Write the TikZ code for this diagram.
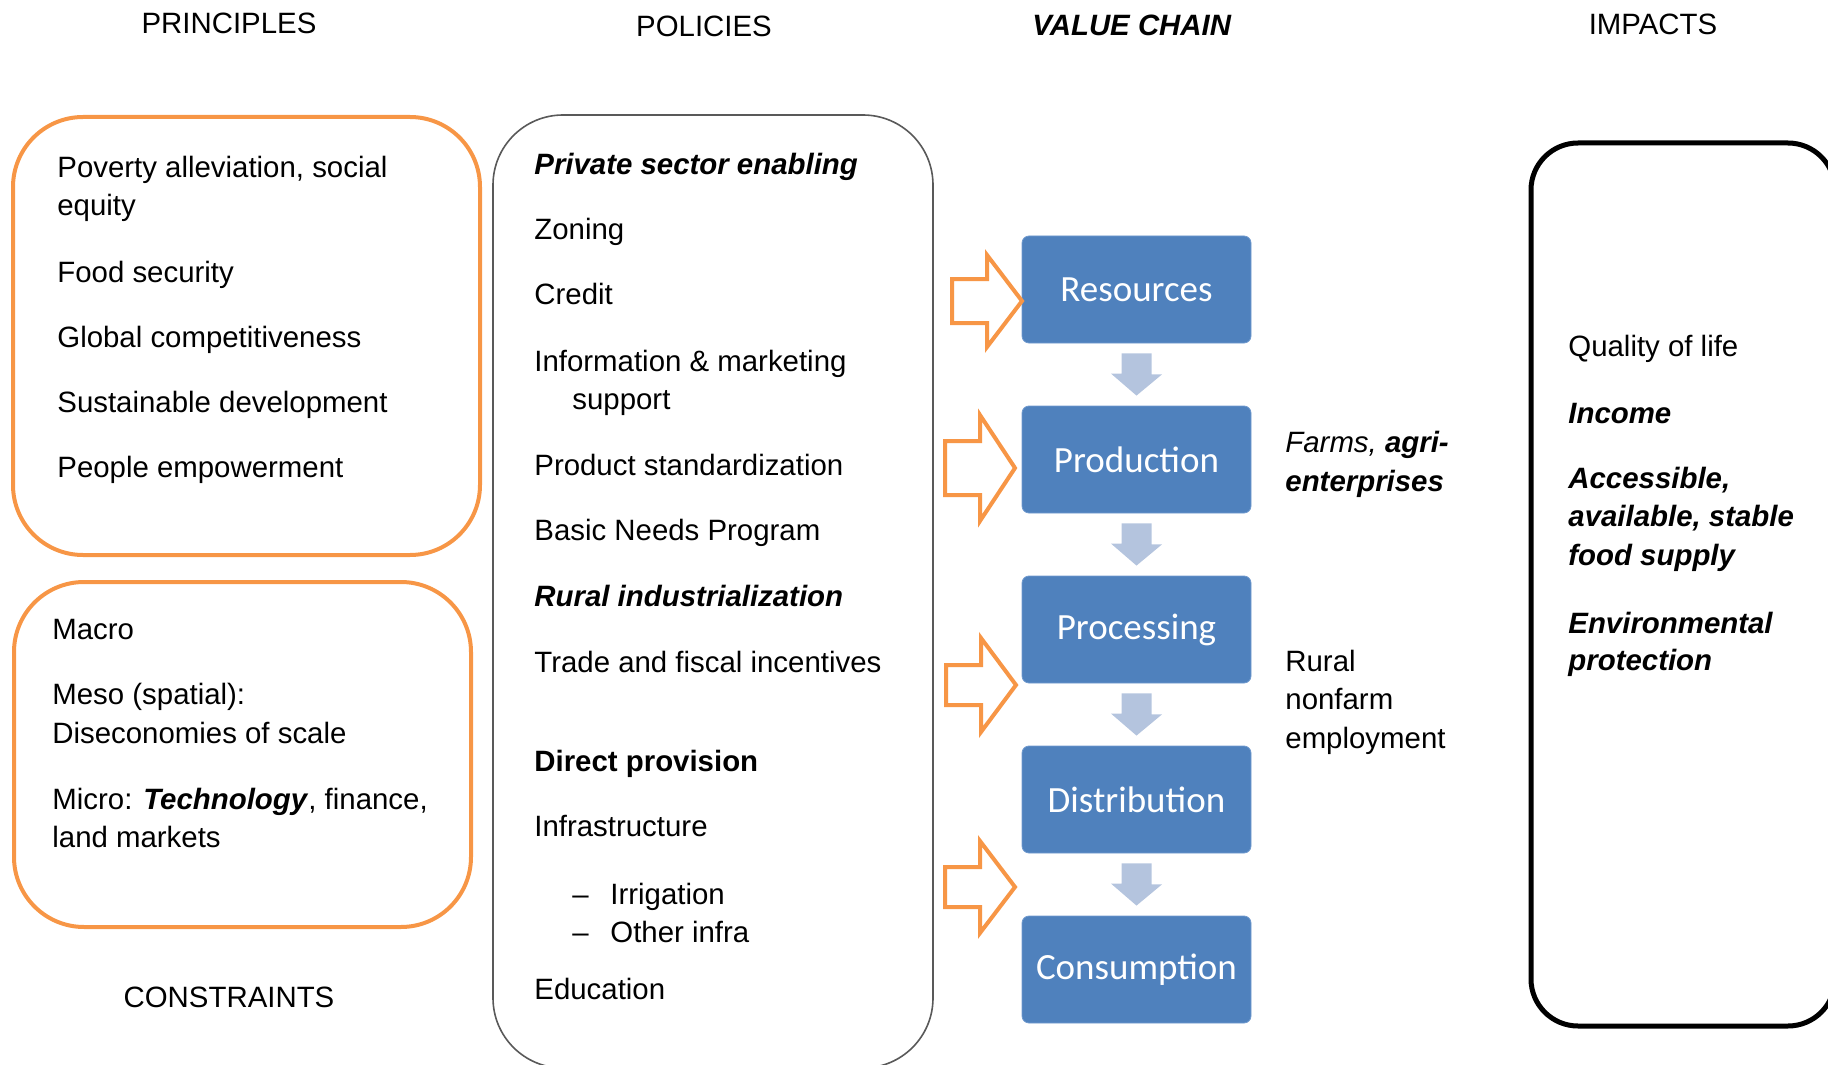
\documentclass[tikz,border=0pt]{standalone}
\usepackage{fontspec}
\setmainfont{Liberation Sans}
\newfontfamily\calibrifont{Carlito}
\usetikzlibrary{calc}

\definecolor{vcorange}{RGB}{247,150,70}
\definecolor{vcblue}{RGB}{79,129,189}
\definecolor{vcblueline}{RGB}{112,154,206}
\definecolor{vcpale}{RGB}{180,196,222}

\tikzset{
  chainbox/.style={draw=vcblueline, line width=0.4pt, fill=vcblue, rounded corners=3.5pt,
    minimum width=114.5pt, minimum height=53.5pt, text=white,
    font=\calibrifont\fontsize{18.5}{22}\selectfont},
  txt/.style={anchor=base west, inner sep=0pt},
  headtxt/.style={anchor=base, inner sep=0pt},
  orangebox/.style={draw=vcorange, line width=2pt, rounded corners=35pt},
  feed/.style={draw=vcorange, line width=2pt, fill=white, line join=miter},
  flow/.style={fill=vcpale, draw=none},
}

% tip x, tip y, head half height, shaft half height
\newcommand{\feedarrow}[4]{%
  \draw[feed] (#1,#2) -- (#1-35,#2-#3) -- (#1-35,#2-#4) -- (#1-70,#2-#4)
    -- (#1-70,#2+#4) -- (#1-35,#2+#4) -- (#1-35,#2+#3) -- cycle;}

\begin{document}
\begin{tikzpicture}[x=0.5pt,y=0.5pt,yscale=-1,font=\fontsize{14.7}{18.5}\selectfont]
\useasboundingbox (0,0) rectangle (1828,1065);

% column headings
\node[headtxt] (hprin) at (229,34) {PRINCIPLES};
\node[headtxt] (hpol) at (704,37) {POLICIES};
\node[headtxt] (hvc) at (1132,36) {\textbf{\textit{VALUE CHAIN}}};
\node[headtxt] (himp) at (1653,35) {IMPACTS};
\node[headtxt] (hcon) at (229,1007) {CONSTRAINTS};

% principles
\draw[orangebox] (13,117) rectangle (480,555);
\node[txt] (pr1) at (57,177) {Poverty alleviation, social};
\node[txt] (pr1b) at (57,216) {equity};
\node[txt] (pr2) at (57,282) {Food security};
\node[txt] (pr3) at (57,347) {Global competitiveness};
\node[txt] (pr4) at (57,412) {Sustainable development};
\node[txt] (pr5) at (57,477) {People empowerment};

% constraints
\draw[orangebox] (14,582) rectangle (471,927);
\node[txt] (co1) at (52,639) {Macro};
\node[txt] (co2) at (52,704) {Meso (spatial):};
\node[txt] (co2b) at (52,743) {Diseconomies of scale};
\node[txt] (co3) at (52,809) {Micro: \textbf{\textit{Technology}}, finance,};
\node[txt] (co3b) at (52,847) {land markets};

% policies
\draw[draw=black!65, line width=0.8pt, rounded corners=35pt] (493,115) rectangle (933,1068);
\node[txt] (po1) at (534,175) {\textbf{\textit{Private sector enabling}}};
\node[txt] (po2) at (534,240) {Zoning};
\node[txt] (po3) at (534,305) {Credit};
\node[txt] (po4) at (534,371) {Information \& marketing};
\node[txt] (po4b) at (572,409) {support};
\node[txt] (po5) at (534,475) {Product standardization};
\node[txt] (po6) at (534,540) {Basic Needs Program};
\node[txt] (po7) at (534,606) {\textbf{\textit{Rural industrialization}}};
\node[txt] (po8) at (534,672) {Trade and fiscal incentives};
\node[txt] (po9) at (534,771) {\textbf{Direct provision}};
\node[txt] (po10) at (534,836) {Infrastructure};
\node[txt] (d1) at (572,904) {--};
\node[txt] (po11) at (610,904) {Irrigation};
\node[txt] (d2) at (572,942) {--};
\node[txt] (po12) at (610,942) {Other infra};
\node[txt] (po13) at (534,999) {Education};

% value chain
\node[chainbox] (res) at (1136.5,289.5) {Resources};
\node[chainbox] (prod) at (1136.5,459.5) {Production};
\node[chainbox] (proc) at (1136.5,629.5) {Processing};
\node[chainbox] (dist) at (1136.5,799.5) {Distribution};
\node[chainbox] (cons) at (1136.5,969.5) {Consumption};

\foreach \a/\b in {res/prod,prod/proc,proc/dist,dist/cons}
  \fill[flow] ($(\a.south)+(-15,10)$) -- ++(30,0) -- ++(0,21) -- ++(10.5,0)
    -- ($(\b.north)+(0,-10)$) -- ++(-25.5,-22) -- ++(10.5,0) -- cycle;

\feedarrow{1022}{301}{46}{22}
\feedarrow{1015}{468}{53}{27}
\feedarrow{1016}{685}{47}{20}
\feedarrow{1015}{887}{46}{20}

\node[txt] (la1) at (1285,452) {\textit{Farms,} \textbf{\textit{agri-}}};
\node[txt] (la1b) at (1285,491) {\textbf{\textit{enterprises}}};
\node[txt] (la2) at (1285,671) {Rural};
\node[txt] (la2b) at (1285,709) {nonfarm};
\node[txt] (la2c) at (1285,748) {employment};

% impacts
\draw[line width=2.5pt, rounded corners=23.5pt] (1531,143) rectangle (1835,1026);
\node[txt] (im1) at (1568,357) {Quality of life};
\node[txt] (im2) at (1568,423) {\textbf{\textit{Income}}};
\node[txt] (im3) at (1568,488) {\textbf{\textit{Accessible,}}};
\node[txt] (im3b) at (1568,526) {\textbf{\textit{available, stable}}};
\node[txt] (im3c) at (1568,565) {\textbf{\textit{food supply}}};
\node[txt] (im4) at (1568,633) {\textbf{\textit{Environmental}}};
\node[txt] (im4b) at (1568,670) {\textbf{\textit{protection}}};
\end{tikzpicture}
\end{document}
